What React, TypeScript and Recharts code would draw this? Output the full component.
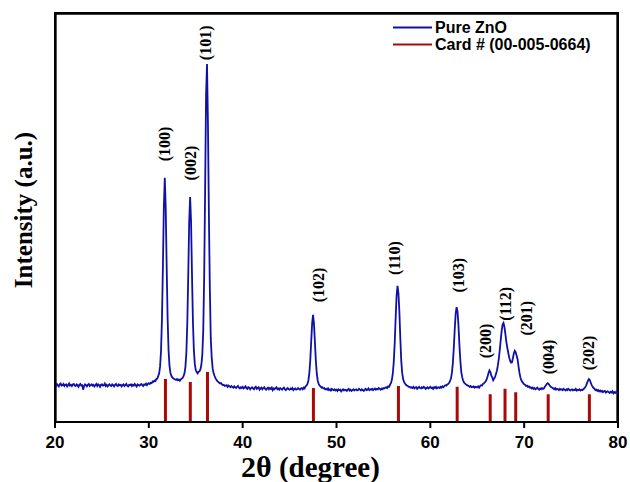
import React from 'react';
import * as RC from 'recharts';
import { ComposedChart, Line, Scatter, XAxis, YAxis, Legend } from 'recharts';

// XRD scan: 2θ from 20° to 80°, sampled every 0.1°
const scanStart = 20;
const scanStep = 0.1;
const pureZnO: number[] = [
  9.1, 8.8, 9.3, 9.0, 8.7, 9.2, 9.4, 8.9, 9.0, 9.3, // 20
  8.8, 9.1, 9.2, 8.7, 9.0, 9.4, 8.9, 9.1, 8.8, 9.2, // 21
  9.3, 8.9, 8.8, 9.2, 9.0, 8.6, 9.1, 9.3, 8.9, 9.0, // 22
  7.9, 8.8, 9.2, 9.0, 8.7, 9.1, 9.3, 8.8, 9.0, 9.2, // 23
  8.9, 9.1, 8.7, 9.0, 9.3, 8.8, 9.2, 9.0, 8.6, 9.1, // 24
  9.2, 8.9, 9.0, 9.4, 8.8, 9.1, 8.7, 9.0, 9.2, 8.9, // 25
  8.8, 9.2, 9.0, 8.7, 9.1, 9.3, 8.9, 8.8, 9.2, 9.0, // 26
  9.1, 8.7, 9.0, 9.2, 8.8, 9.0, 9.3, 8.9, 8.7, 9.1, // 27
  9.0, 9.2, 8.8, 9.1, 8.9, 9.3, 9.0, 8.7, 9.2, 9.0, // 28
  8.9, 9.1, 9.3, 9.0, 8.8, 9.2, 9.1, 9.4, 9.0, 9.3, // 29
  9.5, 9.3, 9.6, 9.5, 9.9, 9.8, 10.1, 10.0, 10.5, 10.6, // 30
  11.2, 11.9, 13.6, 17.4, 25.3, 38.0, 52.5, 59.7, 52.3, 38.2, // 31
  25.5, 17.6, 13.8, 12.0, 11.3, 10.9, 10.7, 10.5, 10.4, 10.3, // 32
  10.5, 10.2, 10.4, 10.1, 10.4, 10.6, 10.8, 11.2, 11.9, 13.5, // 33
  17.0, 24.2, 35.8, 48.9, 55.0, 49.0, 36.0, 24.5, 17.5, 14.2, // 34
  12.7, 12.2, 11.9, 12.3, 12.4, 12.9, 14.0, 16.5, 22.4, 36.0, // 35
  57.0, 80.0, 87.5, 73.0, 51.0, 33.0, 20.5, 15.8, 13.1, 12.0, // 36
  11.3, 10.7, 10.3, 10.0, 9.8, 9.6, 9.4, 9.5, 9.2, 9.0, // 37
  9.1, 8.8, 8.9, 9.0, 8.6, 8.9, 8.7, 8.5, 8.8, 8.6, // 38
  8.4, 8.7, 8.5, 8.3, 8.6, 8.8, 8.4, 8.2, 8.5, 8.3, // 39
  8.6, 8.2, 8.4, 8.7, 8.3, 8.1, 8.5, 8.4, 8.0, 8.3, // 40
  8.5, 8.2, 8.0, 8.4, 8.6, 8.1, 8.3, 8.5, 7.9, 8.2, // 41
  8.4, 8.0, 8.3, 8.5, 8.1, 7.9, 8.2, 8.4, 8.0, 8.3, // 42
  8.1, 8.4, 7.8, 8.2, 8.0, 8.3, 8.5, 8.0, 8.2, 7.9, // 43
  8.3, 8.1, 7.9, 8.2, 8.4, 8.0, 7.8, 8.1, 8.3, 8.0, // 44
  7.9, 8.2, 8.0, 8.3, 7.8, 8.1, 8.2, 7.9, 8.0, 8.3, // 45
  8.1, 7.9, 8.2, 8.3, 8.0, 8.4, 8.2, 8.7, 8.9, 9.3, // 46
  10.1, 11.8, 14.9, 19.5, 24.0, 26.2, 24.0, 19.5, 14.9, 11.8, // 47
  10.1, 9.3, 8.9, 8.7, 8.4, 8.5, 8.2, 8.3, 8.0, 8.1, // 48
  7.9, 8.2, 7.8, 8.0, 7.7, 8.1, 7.9, 7.8, 8.0, 7.7, // 49
  7.9, 7.6, 8.0, 7.8, 7.9, 7.5, 7.8, 8.0, 7.7, 7.9, // 50
  7.8, 7.6, 7.9, 8.1, 7.7, 7.9, 7.6, 7.8, 8.0, 7.7, // 51
  7.9, 8.0, 7.7, 7.8, 8.1, 7.9, 7.7, 8.0, 7.8, 7.6, // 52
  7.9, 8.1, 7.8, 7.9, 8.2, 7.8, 8.0, 7.9, 8.1, 7.8, // 53
  8.0, 8.2, 7.9, 8.1, 8.0, 8.3, 8.1, 7.9, 8.2, 8.0, // 54
  8.3, 8.2, 8.4, 8.5, 8.3, 8.7, 8.6, 9.1, 9.5, 10.3, // 55
  11.8, 14.6, 19.1, 25.2, 30.8, 33.3, 31.5, 27.0, 20.5, 15.0, // 56
  12.0, 10.5, 9.8, 9.4, 9.1, 8.9, 8.8, 8.6, 8.6, 8.4, // 57
  8.5, 8.3, 8.6, 8.2, 8.4, 8.5, 8.1, 8.4, 8.6, 8.3, // 58
  8.2, 8.5, 8.3, 8.6, 8.4, 8.1, 8.3, 8.5, 8.2, 8.4, // 59
  8.6, 8.3, 8.4, 8.1, 8.5, 8.3, 8.6, 8.2, 8.4, 8.5, // 60
  8.3, 8.6, 8.4, 8.7, 8.5, 8.8, 9.0, 8.9, 9.2, 9.3, // 61
  9.6, 10.0, 10.7, 12.0, 14.4, 18.1, 22.6, 26.5, 28.1, 27.0, // 62
  23.5, 18.8, 14.9, 12.2, 10.9, 10.1, 9.6, 9.4, 9.2, 9.0, // 63
  8.9, 8.8, 8.6, 8.8, 8.5, 8.6, 8.7, 8.4, 8.6, 8.5, // 64
  8.5, 8.7, 8.4, 8.8, 9.0, 8.9, 9.3, 9.4, 9.7, 9.9, // 65
  10.4, 11.1, 12.0, 12.6, 12.2, 11.3, 10.9, 10.2, 10.6, 11.0, // 66
  11.8, 12.6, 13.9, 15.5, 17.6, 20.0, 22.3, 23.8, 24.2, 23.2, // 67
  21.5, 19.6, 18.2, 17.0, 15.8, 15.0, 14.5, 14.6, 15.6, 16.8, // 68
  17.4, 17.0, 16.2, 15.3, 13.6, 12.0, 10.9, 10.2, 9.8, 9.5, // 69
  9.2, 9.1, 8.8, 8.9, 8.6, 8.7, 8.4, 8.5, 8.2, 8.4, // 70
  8.1, 8.3, 8.0, 8.2, 8.4, 8.1, 7.9, 8.2, 8.0, 8.3, // 71
  8.1, 8.2, 8.6, 8.9, 9.3, 9.5, 9.3, 9.0, 8.7, 8.5, // 72
  8.4, 8.2, 8.0, 8.3, 7.9, 8.1, 8.0, 7.8, 8.1, 7.9, // 73
  8.0, 7.8, 8.1, 7.9, 7.7, 8.0, 7.8, 8.1, 7.9, 7.7, // 74
  7.9, 8.0, 7.7, 7.9, 7.8, 8.1, 7.7, 7.9, 7.8, 8.0, // 75
  7.7, 7.9, 7.8, 8.0, 8.2, 8.5, 8.9, 9.5, 10.1, 10.5, // 76
  10.2, 9.6, 9.0, 8.6, 8.3, 8.1, 7.8, 7.9, 7.6, 7.8, // 77
  7.5, 7.7, 7.4, 7.6, 7.3, 7.5, 7.6, 7.2, 7.4, 7.5, // 78
  7.3, 7.1, 7.4, 7.2, 7.5, 7.0, 7.3, 7.1, 7.4, 7.2, // 79
  7.1, // 80
];

// Reference card (00-005-0664) stick positions and drawn heights
const cardTwoTheta = [31.77, 34.42, 36.25, 47.54, 56.6, 62.86, 66.38, 67.96, 69.1, 72.56, 76.95];
const cardIntensity = [10.5, 9.8, 12.2, 8.3, 8.8, 8.6, 6.8, 8.1, 7.3, 6.8, 6.8];

// Miller index annotations
const hklLabels = ['(100)', '(002)', '(101)', '(102)', '(110)', '(103)', '(200)', '(112)', '(201)', '(004)', '(202)'];
const hklTwoTheta = [31.67, 34.45, 36.05, 48.09, 56.19, 63.02, 65.9, 68.03, 70.27, 72.62, 76.89];
const hklHeight = [68.0, 63.3, 92.7, 33.5, 40.1, 35.9, 19.8, 28.9, 25.4, 15.9, 16.9];

const xTicks = [20, 30, 40, 50, 60, 70, 80];
const xDomain = [20, 80];
const yDomain = [0, 100];
// frame edges sit a hair inside the box so they cannot be clipped away
const frameX = [20.06, 79.94];
const frameY = [0, 99.85];
const seriesNames = ['Pure ZnO', 'Card # (00-005-0664)'];

const SPECTRUM_COLOR = '#1010a6';
const CARD_COLOR = '#a80a0a';
const SERIF = "'Times New Roman', 'Liberation Serif', serif";
const SANS = "Arial, 'Liberation Sans', sans-serif";
const FRAME = { stroke: '#000', strokeWidth: 2 };

type Row = { x: number; intensity?: number };
type StickRow = { x: number; card: number | null };

const spectrumRows: Row[] = pureZnO.map((v, i) => ({
  x: Math.round((scanStart + i * scanStep) * 100) / 100,
  intensity: v,
}));

// each card reflection becomes a vertical segment from the axis up to its height
const stickRows: StickRow[] = cardTwoTheta.flatMap((x, i) => [
  { x, card: 0 },
  { x, card: cardIntensity[i] },
  { x, card: null },
]);

// plot frame: left, top and right edges of the axis box (bottom is the x axis)
const frameRows = [
  { x: frameX[0], frame: frameY[0] },
  { x: frameX[0], frame: frameY[1] },
  { x: frameX[1], frame: frameY[1] },
  { x: frameX[1], frame: frameY[0] },
];

const labelRows = hklLabels.map((hkl, i) => ({ x: hklTwoTheta[i], y: hklHeight[i], hkl }));

// plot-area box taken from the chart's own layout (Recharts 3 hooks)
const R: any = RC;
const noHook = () => undefined;
const usePlotAreaHook: () => any = R.usePlotArea || noHook;
const useOffsetHook: () => any = R.useOffset || noHook;
const useWidthHook: () => any = R.useChartWidth || noHook;
const useHeightHook: () => any = R.useChartHeight || noHook;

const PlotFrame = () => {
  const area = usePlotAreaHook();
  const offset = useOffsetHook();
  const w = useWidthHook();
  const h = useHeightHook();
  let box = area;
  if ((!box || !Number.isFinite(box.width)) && offset && w && h) {
    box = {
      x: offset.left,
      y: offset.top,
      width: w - offset.left - offset.right,
      height: h - offset.top - offset.bottom,
    };
  }
  if (!box || !Number.isFinite(box.x) || !Number.isFinite(box.width)) return null;
  return (
    <rect x={box.x} y={box.y} width={box.width} height={box.height} fill="none" stroke="#000" strokeWidth={2} />
  );
};

const HklLabel = (props: any) => {
  const { cx, cy, payload } = props;
  if (cx == null || cy == null) return null;
  return (
    <text
      x={cx}
      y={cy}
      transform={`rotate(-90 ${cx} ${cy})`}
      textAnchor="middle"
      dominantBaseline="central"
      fontFamily={SERIF}
      fontWeight="bold"
      fontSize={16}
      fill="#000"
    >
      {payload.hkl}
    </text>
  );
};

const XTitle = (props: any) => {
  const vb = props.viewBox;
  const x0 = vb && Number.isFinite(vb.x) ? vb.x : 55;
  const y0 = vb && Number.isFinite(vb.y) ? vb.y : 422;
  return (
    <text x={x0 + 186} y={y0 + 55} fontFamily={SERIF} fontWeight="bold" fill="#000">
      <tspan fontSize={30}>2θ</tspan>
      <tspan fontSize={29}> (degree)</tspan>
    </text>
  );
};

const YTitle = () => {
  const cx = 23;
  const cy = 210;
  return (
    <text
      x={cx}
      y={cy}
      transform={`rotate(-90 ${cx} ${cy})`}
      textAnchor="middle"
      dominantBaseline="central"
      fontFamily={SERIF}
      fontWeight="bold"
      fontSize={25}
      fill="#000"
    >
      Intensity (a.u.)
    </text>
  );
};

const LegendBox = (props: any) => {
  const seen = new Set<string>();
  const items = (props.payload || [])
    .filter((p: any) => seriesNames.includes(p.value) && !seen.has(p.value) && seen.add(p.value))
    .sort((a: any, b: any) => seriesNames.indexOf(a.value) - seriesNames.indexOf(b.value));
  return (
    <div style={{ display: 'flex', flexDirection: 'column' }}>
      {items.map((p: any) => (
        <div key={p.value} style={{ display: 'flex', alignItems: 'center', height: 17 }}>
          <svg width={42} height={17} style={{ display: 'block' }}>
            <line x1={0} y1={8.5} x2={39} y2={8.5} stroke={p.color} strokeWidth={1.8} />
          </svg>
          <span style={{ font: `bold 16px ${SANS}`, color: '#000', lineHeight: '17px', whiteSpace: 'nowrap' }}>
            {p.value}
          </span>
        </div>
      ))}
    </div>
  );
};

export default function App() {
  return (
    <div style={{ position: 'absolute', left: 0, top: 0, width: 630, height: 482, background: '#fff' }}>
      <ComposedChart width={630} height={482} data={spectrumRows} margin={{ top: 13, right: 12, bottom: 0, left: 0 }}>
        <XAxis
          type="number"
          dataKey="x"
          domain={xDomain}
          ticks={xTicks}
          height={60}
          tickSize={6}
          tickMargin={8}
          axisLine={FRAME}
          tickLine={FRAME}
          tick={{ fontSize: 17, fontWeight: 'bold', fontFamily: SANS, fill: '#000' }}
          label={<XTitle />}
        />
        <YAxis
          type="number"
          domain={yDomain}
          width={55}
          tick={false}
          tickLine={false}
          axisLine={FRAME}
          label={<YTitle />}
        />
        <Line
          data={frameRows}
          type="linear"
          dataKey="frame"
          name="frame"
          legendType="none"
          stroke="#000"
          strokeWidth={2.2}
          strokeLinejoin="miter"
          dot={false}
          activeDot={false}
          isAnimationActive={false}
        />
        <Line
          data={stickRows}
          type="linear"
          dataKey="card"
          name="Card # (00-005-0664)"
          stroke={CARD_COLOR}
          strokeWidth={3}
          dot={false}
          activeDot={false}
          connectNulls={false}
          isAnimationActive={false}
        />
        <Line
          type="linear"
          dataKey="intensity"
          name="Pure ZnO"
          stroke={SPECTRUM_COLOR}
          strokeWidth={1.8}
          dot={false}
          activeDot={false}
          isAnimationActive={false}
        />
        <Scatter
          data={labelRows}
          dataKey="y"
          shape={HklLabel}
          legendType="none"
          isAnimationActive={false}
        />
        <PlotFrame />
        <Legend
          layout="vertical"
          align="center"
          verticalAlign="middle"
          content={<LegendBox />}
          wrapperStyle={{ position: 'absolute', left: 393, top: 18.5, width: 230, height: 'auto', margin: 0, padding: 0 }}
        />
      </ComposedChart>
    </div>
  );
}
